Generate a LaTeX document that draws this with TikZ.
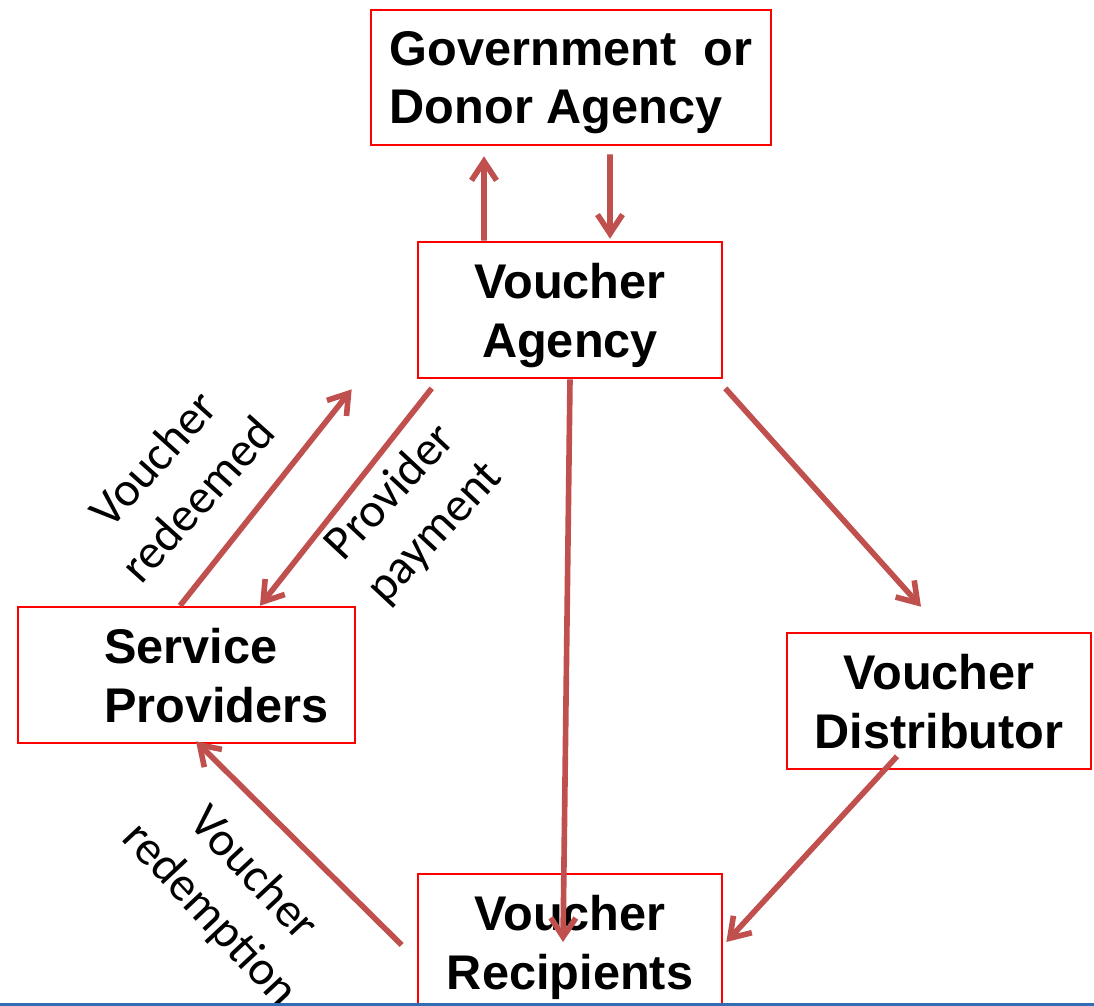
\documentclass[tikz,border=0pt]{standalone}
\usepackage{fontspec}
\setmainfont{Liberation Sans}
\newfontfamily\labelfont{Carlito}
\usepackage{tikz}
\usetikzlibrary{arrows.meta,positioning}
\definecolor{flowred}{HTML}{C0504D}
\definecolor{barblue}{HTML}{2F6EB5}

\begin{document}
\begin{tikzpicture}[
  box/.style={draw=red,line width=1.5pt,inner sep=0pt,minimum height=2.72cm,text depth=0pt,
    font=\fontsize{27.7}{33.5}\selectfont\bfseries},
  flow/.style={draw=flowred,line width=3.2pt,
    -{Straight Barb[length=3.8mm,width=5mm]}},
  note/.style={align=center,font=\labelfont\fontsize{27.6}{34}\selectfont}]
\useasboundingbox (0,0) rectangle (21.88,-20.12);

% the five parties
\node[box,minimum width=8cm,minimum height=2.7cm,align=left] (gov) at (11.42,-1.55) {Government~~or\\Donor Agency};
\node[box,minimum width=6.08cm,align=center] (agency) at (11.40,-6.20) {Voucher\\Agency};
\node[box,minimum width=6.74cm,align=left] (sp) at (3.73,-13.50) {\hspace*{1.2cm}Service\\\hspace*{1.2cm}Providers};
\node[box,minimum width=6.08cm,align=center] (dist) at (18.78,-14.02) {Voucher\\Distributor};
\node[box,minimum width=6.08cm,align=center] (rec) at (11.40,-18.84) {Voucher\\Recipients};

% flows between them
\draw[flow] ([xshift=-1.72cm]agency.north) -- ([xshift=-1.74cm,yshift=-0.2cm]gov.south);
\draw[flow] ([xshift=0.78cm,yshift=-0.16cm]gov.south) -- ([xshift=0.8cm,yshift=0.04cm]agency.north);
\draw[flow] ([xshift=-0.13cm]sp.north) -- ([xshift=-1.3cm,yshift=-0.2cm]agency.south west);
\draw[flow] ([xshift=0.3cm,yshift=-0.18cm]agency.south west) -- ([xshift=1.47cm]sp.north);
\draw[flow] ([xshift=0.04cm,yshift=-0.18cm]agency.south east) -- ([xshift=-0.36cm,yshift=0.5cm]dist.north);
\draw[flow] (agency.south) -- ([xshift=-0.14cm]rec.center);
\draw[flow] ([xshift=-0.84cm,yshift=0.28cm]dist.south) -- ([xshift=0.06cm]rec.east);
\draw[flow] ([xshift=-0.3cm,yshift=-0.06cm]rec.west) -- ([xshift=0.19cm,yshift=0.06cm]sp.south);

% flow labels
\node[note,rotate=48] (redeemed) at (3.5,-9.58) {Voucher\\redeemed};
\node[note,rotate=47] (payment) at (8.26,-10.26) {Provider\\payment};
\node[note,rotate=-47] (redemption) at (4.62,-17.9) {Voucher\\redemption};

\fill[barblue] (0,-20.06) rectangle (21.88,-20.14);
\end{tikzpicture}
\end{document}
